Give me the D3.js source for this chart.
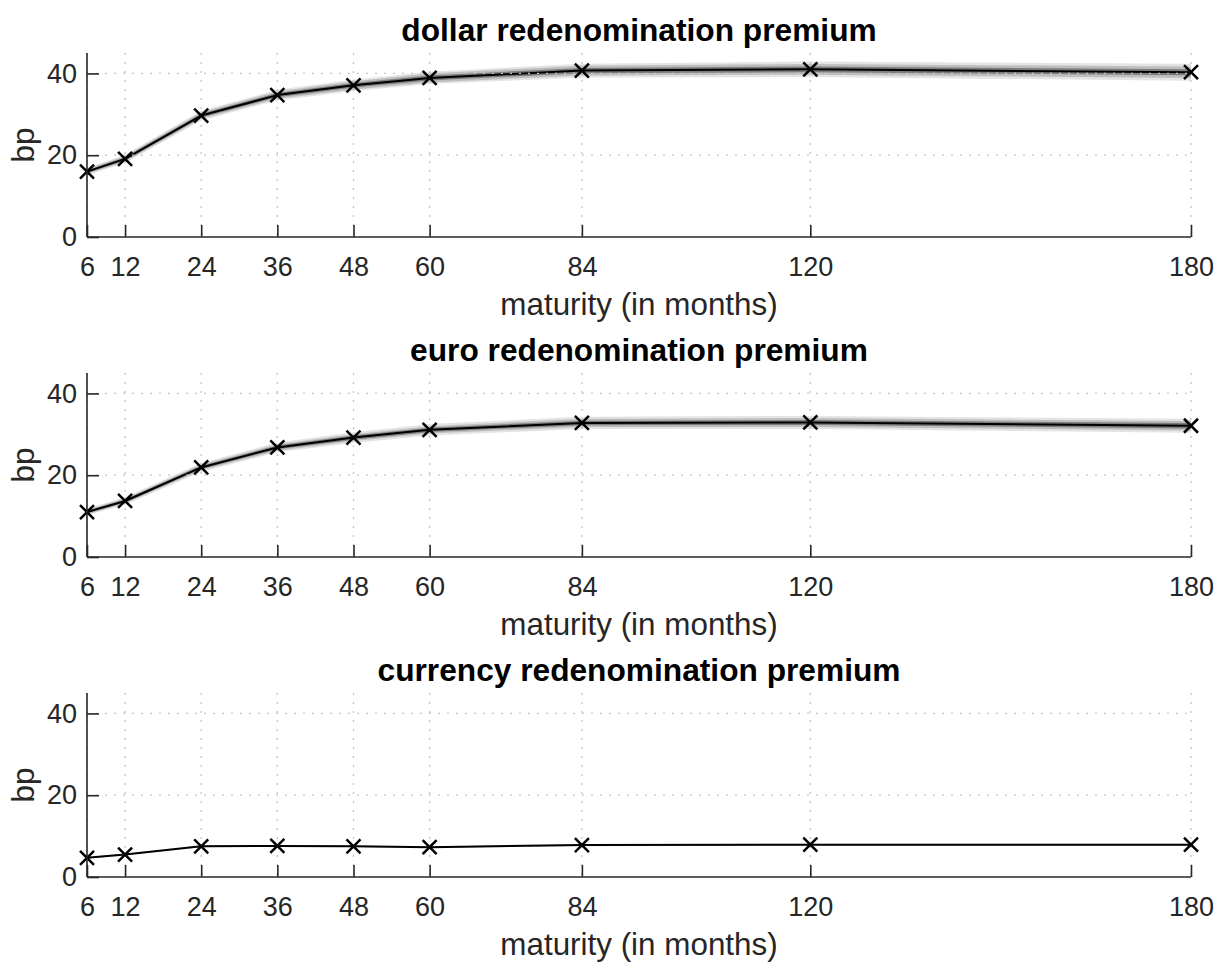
<!DOCTYPE html>
<html>
<head>
<meta charset="utf-8">
<script src="https://cdn.jsdelivr.net/npm/d3@7"></script>
<style>
  html, body { margin: 0; padding: 0; background: #fff; }
  svg { display: block; font-family: "Liberation Sans", Arial, Helvetica, sans-serif; }
</style>
</head>
<body>
<svg id="chart" width="1215" height="962"></svg>
<script>
// Maturities (months) and tick labels
const maturities = [6, 12, 24, 36, 48, 60, 84, 120, 180];
const xTickValues = [6, 12, 24, 36, 48, 60, 84, 120, 180];
const yTickValues = [0, 20, 40];

// Point estimates (bp)
const dollarPremium   = [16.0, 19.1, 29.7, 34.7, 37.1, 38.9, 40.7, 41.0, 40.3];
const euroPremium     = [11.0, 13.7, 21.9, 26.8, 29.2, 31.1, 32.8, 32.9, 32.1];
const currencyPremium = [4.7, 5.5, 7.5, 7.6, 7.5, 7.3, 7.8, 7.9, 7.9];

// Half-widths of the shaded uncertainty bands (bp): wide, middle, narrow
const dollarBandWide     = [0.9, 1.0, 1.2, 1.3, 1.4, 1.5, 1.7, 1.9, 2.1];
const dollarBandMid      = [0.6, 0.7, 0.8, 0.9, 1.0, 1.1, 1.2, 1.3, 1.4];
const dollarBandNarrow   = [0.35, 0.4, 0.45, 0.5, 0.55, 0.6, 0.65, 0.7, 0.75];
const euroBandWide       = [0.8, 0.9, 1.1, 1.2, 1.3, 1.4, 1.5, 1.6, 1.7];
const euroBandMid        = [0.55, 0.6, 0.7, 0.8, 0.85, 0.9, 1.0, 1.1, 1.15];
const euroBandNarrow     = [0.3, 0.35, 0.4, 0.45, 0.5, 0.5, 0.55, 0.6, 0.65];
const currencyBandWide   = [0.25, 0.25, 0.25, 0.25, 0.25, 0.25, 0.25, 0.25, 0.25];
const currencyBandMid    = [0.15, 0.15, 0.15, 0.15, 0.15, 0.15, 0.15, 0.15, 0.15];
const currencyBandNarrow = [0.05, 0.05, 0.05, 0.05, 0.05, 0.05, 0.05, 0.05, 0.05];

const panelTitles = ["dollar redenomination premium", "euro redenomination premium", "currency redenomination premium"];
const xLabel = "maturity (in months)";
const yLabel = "bp";

const panels = [
  { title: panelTitles[0], values: dollarPremium,   bands: [dollarBandWide, dollarBandMid, dollarBandNarrow] },
  { title: panelTitles[1], values: euroPremium,     bands: [euroBandWide, euroBandMid, euroBandNarrow] },
  { title: panelTitles[2], values: currencyPremium, bands: [currencyBandWide, currencyBandMid, currencyBandNarrow] }
];

const svg = d3.select("#chart");
const axisColor = "#262626";
const left = 87, right = 1191, plotH = 184;
const panelTops = [53, 373, 693];
const bandColors = ["#e4e4e4", "#bebebe", "#7c7c7c"];

const x = d3.scaleLinear().domain([6, 180]).range([left, right]);

panels.forEach((p, i) => {
  const top = panelTops[i];
  const y = d3.scaleLinear().domain([0, 45]).range([top + plotH, top]);
  const g = svg.append("g");

  // shaded bands, widest first
  p.bands.forEach((hw, k) => {
    const area = d3.area()
      .x((d, j) => x(maturities[j]))
      .y0((d, j) => y(p.values[j] - hw[j]))
      .y1((d, j) => y(p.values[j] + hw[j]));
    g.append("path").datum(p.values).attr("d", area).attr("fill", bandColors[k]);
  });

  // point-estimate line
  const line = d3.line().x((d, j) => x(maturities[j])).y(d => y(d));
  g.append("path").datum(p.values).attr("d", line)
    .attr("fill", "none").attr("stroke", "#000").attr("stroke-width", 2)
    .attr("stroke-linejoin", "round");

  // dotted grid on top of the bands
  const grid = g.append("g").attr("stroke", "#c4c4c4").attr("stroke-width", 1.3)
    .attr("stroke-dasharray", "2,7").attr("fill", "none");
  xTickValues.forEach(v => grid.append("line")
    .attr("x1", x(v)).attr("x2", x(v)).attr("y1", top).attr("y2", top + plotH));
  yTickValues.filter(v => v > 0).forEach(v => grid.append("line")
    .attr("x1", left).attr("x2", right).attr("y1", y(v)).attr("y2", y(v)));

  // cross markers
  const ms = 7;
  g.append("g").selectAll("path").data(p.values).join("path")
    .attr("d", (d, j) => {
      const cx = x(maturities[j]), cy = y(d);
      return `M${cx - ms},${cy - ms}L${cx + ms},${cy + ms}M${cx - ms},${cy + ms}L${cx + ms},${cy - ms}`;
    })
    .attr("stroke", "#000").attr("stroke-width", 2.5).attr("fill", "none");

  // axes with inward ticks
  const xAxis = d3.axisBottom(x).tickValues(xTickValues).tickSize(-12).tickPadding(20).tickSizeOuter(0);
  const gx = g.append("g").attr("transform", `translate(0,${top + plotH})`).call(xAxis);
  const yAxis = d3.axisLeft(y).tickValues(yTickValues).tickSize(-12).tickPadding(10).tickSizeOuter(0);
  const gy = g.append("g").attr("transform", `translate(${left},0)`).call(yAxis);
  [gx, gy].forEach(ax => {
    ax.select(".domain").attr("stroke", axisColor).attr("stroke-width", 1.6);
    ax.selectAll(".tick line").attr("stroke", axisColor).attr("stroke-width", 1.6);
    ax.selectAll(".tick text").attr("fill", axisColor)
      .style("font-size", "27px").style("font-family", "'Liberation Sans', Arial, sans-serif");
  });
  gy.select(".domain").attr("d", `M0,${top + plotH}V${top}`);
  gx.select(".domain").attr("d", `M${left},0H${right}`);

  // title and axis labels
  g.append("text").attr("x", (left + right) / 2).attr("y", top - 12)
    .attr("text-anchor", "middle").attr("font-weight", "bold").attr("font-size", 31.7)
    .attr("fill", "#000").text(p.title);
  g.append("text").attr("x", (left + right) / 2).attr("y", top + plotH + 78)
    .attr("text-anchor", "middle").attr("font-size", 31.4).attr("fill", axisColor).text(xLabel);
  g.append("text").attr("transform", `translate(34,${top + plotH / 2}) rotate(-90)`)
    .attr("text-anchor", "middle").attr("font-size", 31.4).attr("fill", axisColor).text(yLabel);
});
</script>
</body>
</html>
